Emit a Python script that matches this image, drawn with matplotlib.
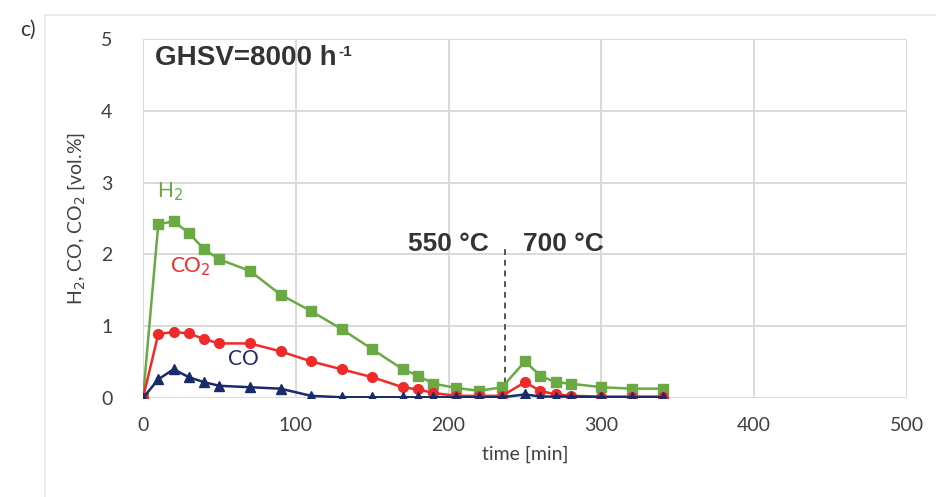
import matplotlib
matplotlib.use("Agg")
import matplotlib.pyplot as plt
from matplotlib.patches import Rectangle

# Measured gas composition over time
time_min = [0, 10, 20, 30, 40, 50, 70, 90, 110, 130, 150, 170, 180, 190,
            205, 220, 235, 250, 260, 270, 280, 300, 320, 340]
h2 = [0, 2.42, 2.46, 2.30, 2.07, 1.93, 1.77, 1.44, 1.21, 0.96, 0.68, 0.40,
      0.31, 0.20, 0.14, 0.10, 0.15, 0.51, 0.31, 0.22, 0.20, 0.15, 0.13, 0.13]
co2 = [0, 0.89, 0.92, 0.90, 0.82, 0.76, 0.76, 0.65, 0.51, 0.40, 0.29, 0.15,
       0.12, 0.07, 0.03, 0.03, 0.03, 0.22, 0.10, 0.05, 0.03, 0.02, 0.02, 0.02]
co = [0, 0.26, 0.40, 0.29, 0.22, 0.17, 0.15, 0.13, 0.03, 0.01, 0.01, 0.01,
      0.01, 0.01, 0.01, 0.01, 0.01, 0.05, 0.02, 0.02, 0.02, 0.01, 0.01, 0.01]

x_ticks = [0, 100, 200, 300, 400, 500]
y_ticks = [0, 1, 2, 3, 4, 5]
switch_time = 237  # temperature step 550 -> 700 °C

GREEN = "#6aa944"
RED = "#f02a2a"
NAVY = "#1b2a68"
GRID = "#d9d9d9"
TXT = "#404040"

plt.rcParams["font.family"] = ["Lato", "DejaVu Sans"]

fig = plt.figure(figsize=(9.36, 4.97), dpi=100)
fig.patch.set_facecolor("white")

# faint chart-area frame
fig.patches.append(Rectangle((45 / 936, -0.05), 1.0, 1 - 15 / 497 + 0.05,
                             transform=fig.transFigure, fill=False,
                             edgecolor="#e6e6e6", linewidth=1.2))

ax = fig.add_axes([143 / 936, 1 - 398 / 497, (907 - 143) / 936, (398 - 39) / 497])
ax.set_xlim(0, 500)
ax.set_ylim(0, 5)
ax.set_xticks(x_ticks)
ax.set_yticks(y_ticks)
ax.grid(True, color=GRID, linewidth=1.4)
ax.set_axisbelow(True)
for s in ax.spines.values():
    s.set_visible(False)
ax.tick_params(length=0, labelsize=14, colors=TXT, pad=14)
ax.tick_params(axis="y", pad=22)

ax.plot(time_min, h2, color=GREEN, marker="s", markersize=7, linewidth=1.8, zorder=3)
ax.plot(time_min, co2, color=RED, marker="o", markersize=7, linewidth=1.8, zorder=4)
ax.plot(time_min, co, color=NAVY, marker="^", markersize=7.5, linewidth=1.8, zorder=5)

ax.plot([switch_time, switch_time], [0.05, 2.1], color="#555555",
        linestyle=(0, (3, 2.5)), linewidth=1.4, zorder=2)

bold = dict(family=["Liberation Sans", "DejaVu Sans"], fontweight="bold",
            color="#333333")
ghsv = ax.text(8, 4.73, "GHSV=8000 h", fontsize=20, va="center", ha="left", **bold)
ax.annotate("-1", xy=(1, 0.75), xycoords=ghsv, xytext=(1, 0),
            textcoords="offset points", fontsize=11, va="center", ha="left", **bold)
ax.text(226, 2.14, "550 °C", fontsize=19, va="center", ha="right", **bold)
ax.text(249, 2.14, "700 °C", fontsize=19, va="center", ha="left", **bold)

ax.text(18, 2.88, "H$_2$", color=GREEN, fontsize=15, ha="center", va="center")
ax.text(31, 1.83, "CO$_2$", color=RED, fontsize=15, ha="center", va="center")
ax.text(66, 0.55, "CO", color=NAVY, fontsize=15, ha="center", va="center")

ax.set_xlabel("time [min]", fontsize=14, color=TXT, labelpad=8)
ax.set_ylabel("H$_2$, CO, CO$_2$ [vol.%]", fontsize=14, color=TXT, labelpad=10)

fig.text(20 / 936, 1 - 30 / 497, "c)", fontsize=15, color="#333333",
         ha="left", va="center")

fig.savefig("out.png", dpi=100)
